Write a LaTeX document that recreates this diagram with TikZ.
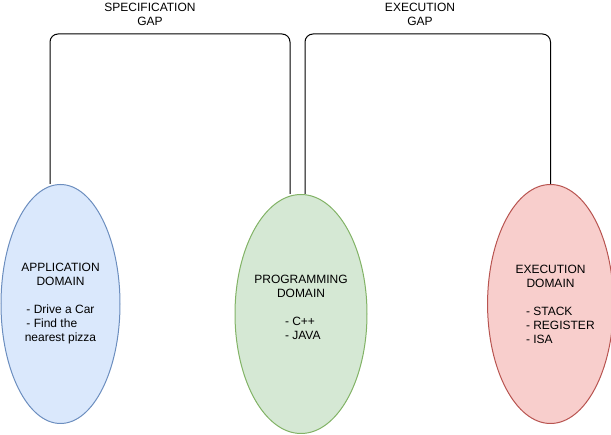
\documentclass[tikz,border=0pt]{standalone}
\usepackage{fontspec}
\setmainfont{Liberation Sans}
\usetikzlibrary{shapes.geometric,backgrounds}
\definecolor{appfill}{HTML}{DAE8FC} \definecolor{appline}{HTML}{6C8EBF}
\definecolor{progfill}{HTML}{D5E8D4} \definecolor{progline}{HTML}{82B366}
\definecolor{execfill}{HTML}{F8CECC} \definecolor{execline}{HTML}{B85450}
\begin{document}
\begin{tikzpicture}[x=1pt,y=-1pt,
    dom/.style = {draw, ellipse, line width=1pt, minimum width=119pt, minimum height=239pt, inner sep=0pt, align=center, font=\fontsize{12pt}{14pt}\selectfont},
    gap/.style = {draw, line width=1pt, rounded corners=8pt},
    txt/.style = {align=center, font=\fontsize{12pt}{14pt}\selectfont}]
          \useasboundingbox (0,0) rectangle (611,435);
          \node[dom, fill=appfill, draw=appline](app) at (60.5,304){APPLICATION\\DOMAIN\\~\\\makebox[68pt][l]{- Drive a Car}\\\makebox[68pt][l]{- Find the}\\nearest pizza};
          \node[dom, fill=progfill, draw=progline](prog) at (301,314){PROGRAMMING\\DOMAIN\\~\\\hspace*{4pt}\makebox[36pt][l]{- C++}\\\hspace*{4pt}\makebox[36pt][l]{- JAVA}\\~};
          \node[dom, fill=execfill, draw=execline](exec) at (550.5,304){EXECUTION\\DOMAIN\\~\\\hspace*{20pt}\makebox[69pt][l]{- STACK}\\\hspace*{20pt}\makebox[69pt][l]{- REGISTER}\\\hspace*{20pt}\makebox[69pt][l]{- ISA}};

          \node[txt](specgap) at (150,14){SPECIFICATION\\GAP};
          \node[txt](execgap) at (420,14){EXECUTION\\GAP};
          \coordinate (s) at (150,34); \coordinate (e) at (420,34);

          \begin{pgfonlayer}{background}
          \draw[gap] ([xshift=-10.5pt]app.north) |- (s) -| ([xshift=-11pt]prog.north);
          \draw[gap] ([xshift=4pt]prog.north) |- (e) -| (exec.north);
          \end{pgfonlayer}
      \end{tikzpicture}
\end{document}
